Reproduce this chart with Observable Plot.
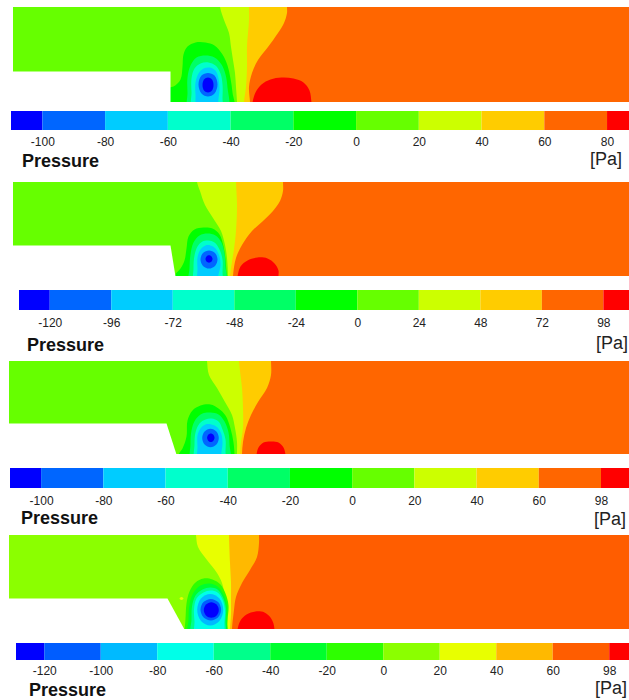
<!DOCTYPE html>
<html><head><meta charset="utf-8">
<script src="https://cdn.jsdelivr.net/npm/d3@7"></script>
<script src="https://cdn.jsdelivr.net/npm/@observablehq/plot@0.6"></script>
<style>
body{margin:0;background:#fff;}
#root{position:relative;width:629px;height:700px;overflow:hidden;font-family:"Liberation Sans",Arial,sans-serif;}
.ptitle{position:absolute;font-weight:bold;font-size:18px;line-height:13px;color:#111;white-space:nowrap;}
.punit{position:absolute;font-size:18px;line-height:13px;color:#222;white-space:nowrap;text-align:right;}
svg{background:transparent!important;}
</style></head><body><div id="root"></div><script>
// ---------- colour levels ----------
const colors11 = ["#0000ff","#0066ff","#00ccff","#00ffcc","#00ff66","#00ff00","#66ff00","#ccff00","#ffcc00","#ff6600","#ff0000"];
const colors12 = ["#0000ff","#005dff","#00baff","#00ffe8","#00ff8b","#00ff2e","#2eff00","#8bff00","#e8ff00","#ffb900","#ff5d00","#ff0000"];

// ---------- colour-bar values & tick labels ----------
const p1Edges = [-110,-100,-80,-60,-40,-20,0,20,40,60,80,87];
const p1Ticks = [-100,-80,-60,-40,-20,0,20,40,60,80];
const p1Labels = ["-100","-80","-60","-40","-20","0","20","40","60","80"];

const p2Edges = [-132,-120,-96,-72,-48,-24,0,24,48,72,96,106];
const p2Ticks = [-120,-96,-72,-48,-24,0,24,48,72,96];
const p2Labels = ["-120","-96","-72","-48","-24","0","24","48","72","98"];

const p3Edges = [-110,-100,-80,-60,-40,-20,0,20,40,60,80,89];
const p3Ticks = [-100,-80,-60,-40,-20,0,20,40,60,80];
const p3Labels = ["-100","-80","-60","-40","-20","0","20","40","60","98"];

const p4Edges = [-130,-120,-100,-80,-60,-40,-20,0,20,40,60,80,87];
const p4Ticks = [-120,-100,-80,-60,-40,-20,0,20,40,60,80];
const p4Labels = ["-120","-100","-80","-60","-40","-20","0","20","40","60","98"];

// ---------- contour regions (level, outline in domain units: x along channel, y up from wall) ----------
// bands: everything downstream of the outline is at least this level
const p1Bands = [
  [7, [[206,105],[207,95],[211,82],[216,69],[218,55],[220,42],[222,29],[223,15],[224,0],[224,-10]]],
  [8, [[236,105],[236,95],[236,82],[234,55],[234,35],[233,15],[231,0],[231,-10]]],
  [9, [[274,105],[274,95],[274,89],[271,79],[265,69],[255,55],[245,42],[239,29],[236,15],[237,0],[237,-10]]]
];
const p1Shapes = [
  [10, [[238,-8],[239,0],[242,10],[248,18],[257,23],[268,25],[280,24],[290,20],[296,12],[298,0],[299,-8]]],
  [5, [[150,-8],[150,14],[160,16],[167,23],[169,36],[170,48],[174,56],[182,60],[192,60],[201,57],[209,48],[214,37],[217,24],[219,10],[220,-8]]],
  [4, [[175,-8],[174,10],[174,25],[177,37],[183,45],[192,47],[201,45],[208,38],[212,28],[214,15],[214,-8]]],
  [3, [[179,-8],[178,10],[178,24],[181,34],[187,39],[195,40],[202,37],[207,29],[209,18],[209,5],[208,-8]]],
  [2, [[184,-8],[182,8],[182,20],[185,29],[190,34],[196,35],[202,32],[205,24],[206,14],[205,4],[203,-8]]],
  [1, [[194.5,29.5],[201,27],[204,18],[201,9],[194.5,6],[188,9],[185,18],[188,27]]],
  [0, [[194.5,25],[198.5,23],[200,17.5],[198.5,12],[194.5,10],[190.5,12],[189,17.5],[190.5,23]]]
];
const p1Wall = [[-20,-10],[-20,31],[157,31],[157,-10]];

const p2Bands = [
  [7, [[183,104],[184,94],[187,85],[192,71],[200,58],[208,45],[212,31],[214,18],[215,0],[215,-10]]],
  [8, [[223,104],[223,94],[224,71],[223,45],[221,27],[219,14],[217,0],[217,-10]]],
  [9, [[270,104],[270,94],[270,85],[267,75],[260,65],[250,55],[239,45],[229,31],[223,18],[220,0],[220,-10]]]
];
const p2Shapes = [
  [10, [[223,-8],[224,0],[227,10],[234,16],[244,19],[254,18],[261,13],[265,6],[265,0],[266,-8]]],
  [5, [[161,-8],[162,2],[167,8],[171,16],[173,28],[175,40],[181,47],[190,49],[199,48],[206,42],[210,30],[212,17],[213,4],[214,-8]]],
  [4, [[176,-8],[176,8],[177,22],[180,34],[186,41],[194,43],[202,41],[208,34],[211,23],[212,10],[212,-8]]],
  [3, [[181,-8],[180,8],[181,21],[184,30],[189,35],[195,36],[201,34],[206,27],[209,17],[209,5],[208,-8]]],
  [2, [[185,-8],[184,8],[184,19],[187,27],[192,31],[197,31],[202,28],[206,20],[207,11],[205,2],[203,-8]]],
  [1, [[195.5,26],[201.5,23.4],[204,17],[201.5,10.6],[195.5,8],[189.5,10.6],[187,17],[189.5,23.4]]],
  [0, [[195.5,21.2],[198,20],[199,17.5],[198,15],[195.5,13.8],[193,15],[192,17.5],[193,20]]]
];
const p2Wall = [[-20,-10],[-20,31],[157,31],[162,0],[162,-10]];

const p3Bands = [
  [7, [[197,103],[198,93],[200,79],[208,66],[216,52],[223,39],[226,26],[228,12],[228,0],[228,-10]]],
  [8, [[230,103],[230,93],[233,66],[234,46],[234,26],[232,12],[231,0],[231,-10]]],
  [9, [[262,103],[262,93],[262,79],[258,66],[249,52],[242,39],[237,26],[234,12],[233,0],[233,-10]]]
];
const p3Shapes = [
  [10, [[246,-8],[247,0],[249,7],[254,12],[261,13],[269,12],[274,7],[276,0],[277,-8]]],
  [5, [[168,-8],[169,0],[173,6],[177,18],[178,34],[183,44],[191,49],[201,50],[209,46],[216,39],[221,26],[224,12],[225,0],[225,-8]]],
  [4, [[182,-8],[181,10],[182,24],[186,35],[193,41],[201,42],[209,40],[215,33],[219,22],[220,10],[220,-8]]],
  [3, [[186,-8],[185,10],[186,22],[190,31],[196,35],[202,36],[209,33],[213,25],[216,15],[216,4],[215,-8]]],
  [2, [[189,-8],[188,8],[188,19],[191,26],[196,30],[202,30],[208,27],[212,20],[213,11],[212,3],[210,-8]]],
  [1, [[201,25.7],[206.9,23],[209.3,16.5],[206.9,10],[201,7.3],[195.1,10],[192.7,16.5],[195.1,23]]],
  [0, [[201.3,21],[203.9,19.7],[205,16.7],[203.9,13.7],[201.3,12.4],[198.7,13.7],[197.6,16.7],[198.7,19.7]]]
];
const p3Wall = [[-20,-10],[-20,31],[157,31],[167,0],[167,-10]];

const p4Bands = [
  [8, [[186,104],[187,94],[189,82],[198,69],[208,56],[213,46],[216,32],[218,19],[219,0],[219,-10]]],
  [9, [[220,104],[220,94],[221,66],[222,46],[222,30],[222,15],[221,0],[221,-10]]],
  [10, [[250,104],[250,94],[250,86],[248,72],[241,59],[233,46],[227,32],[225,19],[223,0],[223,-10]]]
];
const p4Shapes = [
  [11, [[227,-8],[228,0],[231,9],[237,15],[246,18],[255,17],[261,12],[264,6],[265,0],[266,-8]]],
  [8, [[172,32.5],[174,31],[172,29.5],[170,31]]],
  [6, [[173,-8],[175,0],[176,11],[177,26],[180,38],[186,47],[194,51],[203,50],[211,45],[216,36],[219,24],[218,10],[217,0],[217,-8]]],
  [5, [[179,-8],[179,10],[180,25],[184,37],[191,44],[200,46],[208,43],[214,35],[217.5,24],[217,12],[216,-8]]],
  [4, [[182,-8],[182,10],[182.5,23],[186,34],[193,40],[201,42],[208,40],[213.5,32],[216.5,21],[216,9],[215,-8]]],
  [3, [[186,-8],[185,8],[184.5,20],[187,31],[194,37],[201,39],[208,37],[213,30],[215.5,19],[215,8],[213,-8]]],
  [2, [[200.7,35.6],[209.9,31],[213.7,19.8],[209.9,8.6],[200.7,4],[191.5,8.6],[187.7,19.8],[191.5,31]]],
  [1, [[201.3,30.6],[208.6,27.4],[211.6,19.8],[208.6,12.2],[201.3,9],[194,12.2],[191,19.8],[194,27.4]]],
  [0, [[201.8,27.3],[207.1,25],[209.3,19.5],[207.1,14],[201.8,11.7],[196.5,14],[194.3,19.5],[196.5,25]]]
];
const p4Wall = [[-20,-10],[-20,31],[158,31],[175,0],[175,-10]];

// ---------- layout (positions in the page) ----------
const layout = [
  {top:7,   left:13, bottom:102, bg:6, colors:colors11, bands:p1Bands, shapes:p1Shapes, wall:p1Wall,
   bar:{top:111, h:19, left:11, pad:6.8}, edges:p1Edges, ticks:p1Ticks, labels:p1Labels,
   title:{left:22, base:167.5}, unit:{right:622, base:166}},
  {top:182, left:13, bottom:276, bg:6, colors:colors11, bands:p2Bands, shapes:p2Shapes, wall:p2Wall,
   bar:{top:290, h:20, left:19, pad:7.7}, edges:p2Edges, ticks:p2Ticks, labels:p2Labels,
   title:{left:27, base:351.5}, unit:{right:628, base:350}},
  {top:361, left:9,  bottom:454, bg:6, colors:colors11, bands:p3Bands, shapes:p3Shapes, wall:p3Wall,
   bar:{top:468, h:20, left:10, pad:8}, edges:p3Edges, ticks:p3Ticks, labels:p3Labels,
   title:{left:21, base:525}, unit:{right:626, base:525.5}},
  {top:535, left:9,  bottom:629, bg:7, colors:colors12, bands:p4Bands, shapes:p4Shapes, wall:p4Wall,
   bar:{top:643, h:17, left:16, pad:6}, edges:p4Edges, ticks:p4Ticks, labels:p4Labels,
   title:{left:29, base:696.5}, unit:{right:627, base:695}}
];

const root = document.getElementById("root");
const fontStyle = {fontFamily:"'Liberation Sans', Arial, sans-serif", fontSize:"12px", color:"#222", background:"transparent", overflow:"visible"};

function place(el, top) {
  el.style.position = "absolute";
  el.style.left = "0px";
  el.style.top = top + "px";
  root.appendChild(el);
}

function colorScale(colors) {
  return {type:"ordinal", domain: colors.map((c, i) => i), range: colors};
}

layout.forEach(L => {
  const W = 629 - L.left, H = L.bottom - L.top;
  const bgRows = [{bin: L.bg, y: H + 10}, {bin: L.bg, y: -10}];
  const bandRows = L.bands.flatMap(([bin, pts]) => pts.map(([x, y]) => ({bin, x, y})));
  const shapeRows = L.shapes.flatMap(([bin, pts], id) => pts.map(([x, y]) => ({id, bin, x, y})));
  const field = Plot.plot({
    width: 629, height: H,
    marginLeft: L.left, marginRight: 0, marginTop: 0, marginBottom: 0,
    x: {domain: [0, W], axis: null},
    y: {domain: [0, H], axis: null},
    color: colorScale(L.colors),
    style: fontStyle,
    marks: [
      Plot.areaX(bgRows, {y: "y", x1: -40, x2: W + 40, fill: "bin", clip: true}),
      Plot.areaX(bandRows, {y: "y", x1: "x", x2: W + 40, fill: "bin", z: "bin", curve: "catmull-rom", clip: true}),
      Plot.line(shapeRows, {x: "x", y: "y", z: "id", fill: "bin", stroke: "none", curve: "catmull-rom-closed", clip: true}),
      Plot.line(L.wall, {x: d => d[0], y: d => d[1], fill: "white", stroke: "none", curve: "linear-closed", clip: true})
    ]
  });
  place(field, L.top);

  const cells = L.colors.map((c, i) => ({bin: i, x1: L.edges[i], x2: L.edges[i + 1]}));
  const bar = Plot.plot({
    width: 629, height: L.bar.h + 24,
    marginLeft: L.bar.left, marginRight: 0, marginTop: 0, marginBottom: 24,
    x: {domain: [L.edges[0], L.edges[L.edges.length - 1]], label: null},
    color: colorScale(L.colors),
    style: fontStyle,
    marks: [
      Plot.rect(cells, {x1: "x1", x2: "x2", fill: "bin"}),
      Plot.axisX(L.ticks, {tickSize: 0, tickPadding: L.bar.pad, label: null, fontSize: 12,
        tickFormat: d => L.labels[L.ticks.indexOf(d)]})
    ]
  });
  place(bar, L.bar.top);
});

// line-height 13px: baseline sits about 12.7px below the box top
layout.forEach(L => {
  const t = document.createElement("div");
  t.className = "ptitle";
  t.textContent = "Pressure";
  t.style.left = L.title.left + "px";
  t.style.top = (L.title.base - 12.7) + "px";
  root.appendChild(t);
  const u = document.createElement("div");
  u.className = "punit";
  u.textContent = "[Pa]";
  u.style.right = (629 - L.unit.right) + "px";
  u.style.top = (L.unit.base - 12.7) + "px";
  root.appendChild(u);
});
</script></body></html>
